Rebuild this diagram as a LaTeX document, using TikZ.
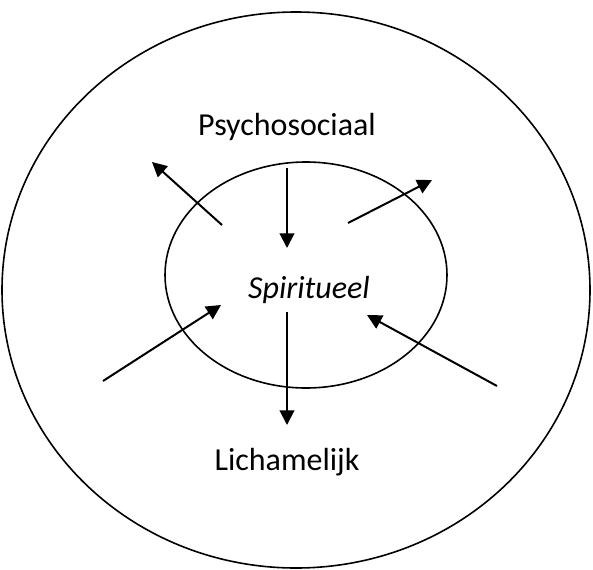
\documentclass[tikz,border=0pt]{standalone}
\usepackage{fontspec}
\setmainfont{Carlito}
\usetikzlibrary{arrows.meta}
\begin{document}
\begin{tikzpicture}[x=0.75pt,y=-0.75pt,
  ring/.style={draw=black,line width=1.2pt},
  flow/.style={draw=black,line width=1.5pt,-{Triangle[length=11pt,width=11pt]}},
  label/.style={font=\fontsize{24}{29}\selectfont,inner sep=0pt}]
\useasboundingbox (0,0) rectangle (593,569);
\draw[ring] (296,290) ellipse [x radius=294,y radius=278];
\draw[ring] (306,275) ellipse [x radius=141,y radius=113];
\node[label] (psy) at (287,127) {Psychosociaal};
\node[label,font=\fontsize{24}{29}\selectfont\itshape] (spi) at (309,290) {Spiritueel};
\node[label] (lic) at (287,462) {Lichamelijk};
\coordinate (t0) at (287,168); \coordinate (t1) at (287,248);
\coordinate (b0) at (287,312); \coordinate (b1) at (287,425);
\coordinate (ul0) at (222,225); \coordinate (ul1) at (152,162);
\coordinate (ur0) at (348,223); \coordinate (ur1) at (432,180);
\coordinate (ll0) at (103,381); \coordinate (ll1) at (221,305);
\coordinate (lr0) at (497,386); \coordinate (lr1) at (367,315);
\draw[flow] (t0) -- (t1);
\draw[flow] (b0) -- (b1);
\draw[flow] (ul0) -- (ul1);
\draw[flow] (ur0) -- (ur1);
\draw[flow] (ll0) -- (ll1);
\draw[flow] (lr0) -- (lr1);
\end{tikzpicture}
\end{document}
